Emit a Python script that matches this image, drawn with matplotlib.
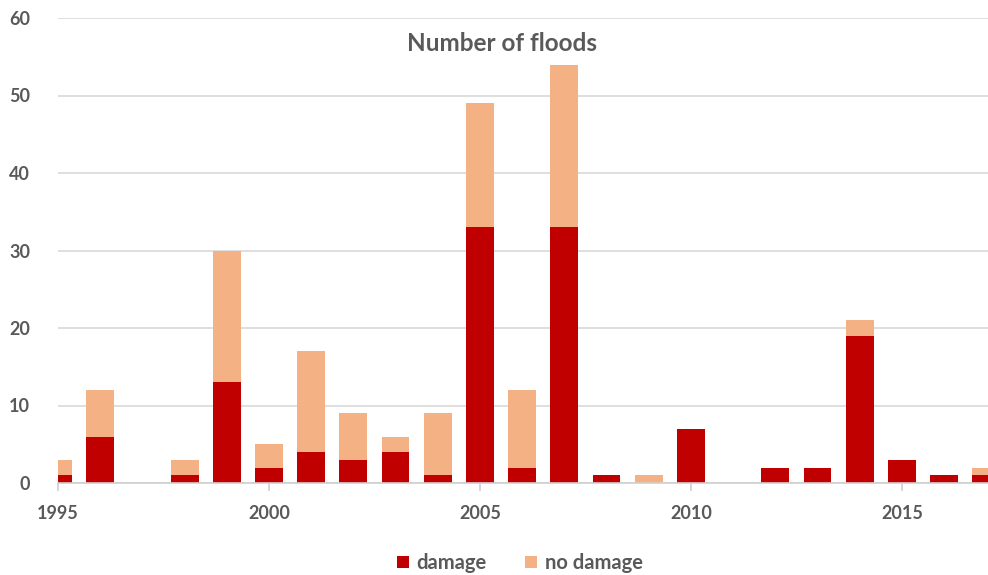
import numpy as np
import matplotlib
matplotlib.use("Agg")
import matplotlib.pyplot as plt

plt.rcParams["font.family"] = ["Lato", "DejaVu Sans"]

# Flood counts per year, split by outcome
years = list(range(1995, 2018))
damage = [1, 6, 0, 1, 13, 2, 4, 3, 4, 1, 33, 2, 33, 1, 0, 7, 0, 2, 2, 19, 3, 1, 1]
no_damage = [2, 6, 0, 2, 17, 3, 13, 6, 2, 8, 16, 10, 21, 0, 1, 0, 0, 0, 0, 2, 0, 0, 1]
y_ticks = [0, 10, 20, 30, 40, 50, 60]
x_ticks = [1995, 2000, 2005, 2010, 2015]

red = "#C00000"
peach = "#F4B183"
text_grey = "#595959"

fig = plt.figure(figsize=(9.88, 5.75), dpi=100)
ax = fig.add_axes([58 / 988, 1 - 483 / 575, 930 / 988, 465 / 575])

ax.bar(years, damage, width=0.66, color=red, label="damage", zorder=3)
ax.bar(years, no_damage, width=0.66, bottom=damage, color=peach,
       label="no damage", zorder=3)

ax.set_xlim(1995, 2017.04)
ax.set_ylim(0, 60)
ax.set_yticks(y_ticks)
ax.set_xticks(x_ticks)
ax.yaxis.grid(True, color="#d9d9d9", linewidth=1.2, zorder=0)
ax.set_axisbelow(True)

for side in ["top", "right", "left"]:
    ax.spines[side].set_visible(False)
ax.spines["bottom"].set_color("#d0d0d0")
ax.spines["bottom"].set_linewidth(1.2)
ax.spines["bottom"].set_zorder(4)

ax.tick_params(axis="y", length=0, pad=20, labelsize=13, labelcolor=text_grey)
ax.tick_params(axis="x", length=6, width=1.2, color="#d0d0d0", pad=10,
               labelsize=13, labelcolor=text_grey)
for lbl in ax.get_xticklabels() + ax.get_yticklabels():
    lbl.set_fontweight("bold")

ax.text(0.477, 0.945, "Number of floods", transform=ax.transAxes,
        ha="center", va="center", fontsize=17.5, fontweight="bold",
        color=text_grey)

leg = fig.legend(loc="center", bbox_to_anchor=(520 / 988, 1 - 563 / 575),
                 ncol=2, frameon=False, handlelength=0.6, handleheight=0.6,
                 columnspacing=1.9, handletextpad=0.4,
                 prop={"size": 14.5, "weight": "bold"})
for t in leg.get_texts():
    t.set_color(text_grey)

fig.savefig("out.png", dpi=100)
